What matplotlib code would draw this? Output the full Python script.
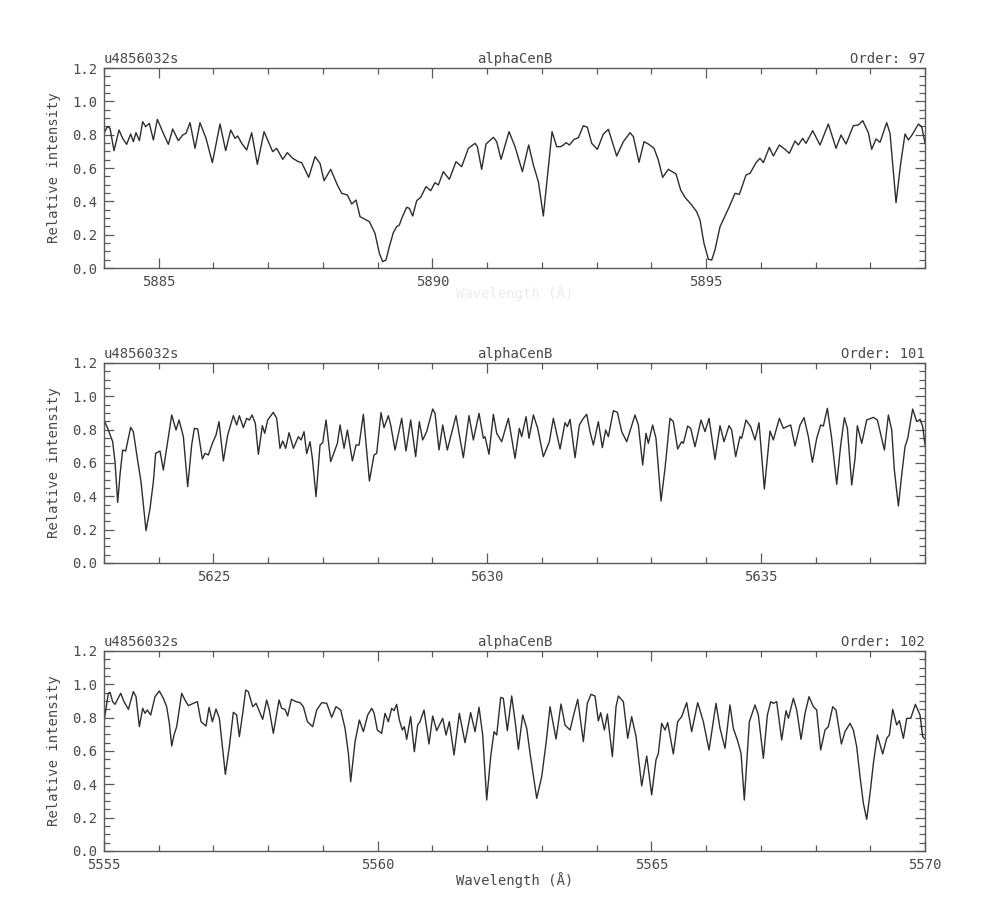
import matplotlib
matplotlib.use("Agg")
import matplotlib.pyplot as plt
from matplotlib.ticker import MultipleLocator, FormatStrFormatter

# ---------------- data ----------------
object_name = "alphaCenB"
file_id = "u4856032s"
orders = [97, 101, 102]
xlims = [(5884.0, 5899.0), (5623.0, 5638.0), (5555.0, 5570.0)]

wl97 = [5884.000, 5884.061, 5884.110, 5884.183, 5884.274, 5884.341, 5884.414, 5884.487, 5884.536, 5884.585,
        5884.646, 5884.707, 5884.761, 5884.828, 5884.902, 5884.975, 5885.084, 5885.176, 5885.255, 5885.358,
        5885.438, 5885.498, 5885.572, 5885.663, 5885.754, 5885.864, 5885.980, 5886.120, 5886.223, 5886.315,
        5886.394, 5886.443, 5886.516, 5886.607, 5886.698, 5886.802, 5886.924, 5887.003, 5887.082, 5887.155,
        5887.265, 5887.350, 5887.448, 5887.551, 5887.612, 5887.740, 5887.856, 5887.947, 5888.020, 5888.142,
        5888.264, 5888.343, 5888.447, 5888.526, 5888.605, 5888.678, 5888.769, 5888.849, 5888.951, 5889.031,
        5889.091, 5889.152, 5889.213, 5889.286, 5889.347, 5889.396, 5889.457, 5889.530, 5889.579, 5889.640,
        5889.713, 5889.786, 5889.883, 5889.969, 5890.048, 5890.109, 5890.200, 5890.310, 5890.431, 5890.535,
        5890.657, 5890.779, 5890.821, 5890.900, 5890.980, 5891.114, 5891.175, 5891.254, 5891.400, 5891.510,
        5891.644, 5891.759, 5891.845, 5891.936, 5892.027, 5892.119, 5892.186, 5892.271, 5892.344, 5892.393,
        5892.442, 5892.502, 5892.588, 5892.667, 5892.758, 5892.831, 5892.911, 5893.014, 5893.124, 5893.215,
        5893.367, 5893.489, 5893.611, 5893.672, 5893.775, 5893.866, 5893.945, 5894.049, 5894.128, 5894.207,
        5894.311, 5894.451, 5894.536, 5894.615, 5894.737, 5894.828, 5894.889, 5894.962, 5895.042, 5895.103,
        5895.163, 5895.255, 5895.346, 5895.425, 5895.529, 5895.608, 5895.730, 5895.803, 5895.913, 5895.986,
        5896.047, 5896.156, 5896.229, 5896.339, 5896.443, 5896.522, 5896.625, 5896.686, 5896.765, 5896.826,
        5896.948, 5897.082, 5897.234, 5897.375, 5897.466, 5897.557, 5897.691, 5897.783, 5897.862, 5897.965,
        5898.026, 5898.105, 5898.179, 5898.300, 5898.361, 5898.471, 5898.556, 5898.635, 5898.696, 5898.775,
        5898.879, 5898.940, 5899.001]
fl97 = [0.808, 0.848, 0.838, 0.704, 0.828, 0.778, 0.742, 0.804, 0.758, 0.812,
        0.764, 0.878, 0.848, 0.868, 0.768, 0.892, 0.808, 0.742, 0.834, 0.764,
        0.798, 0.808, 0.872, 0.718, 0.872, 0.778, 0.632, 0.864, 0.704, 0.828,
        0.778, 0.792, 0.748, 0.708, 0.812, 0.622, 0.818, 0.758, 0.698, 0.718,
        0.652, 0.692, 0.658, 0.638, 0.632, 0.544, 0.668, 0.628, 0.524, 0.592,
        0.498, 0.448, 0.438, 0.384, 0.408, 0.308, 0.292, 0.278, 0.208, 0.088,
        0.038, 0.048, 0.128, 0.212, 0.248, 0.258, 0.312, 0.364, 0.358, 0.312,
        0.404, 0.424, 0.488, 0.464, 0.512, 0.498, 0.578, 0.532, 0.638, 0.608,
        0.718, 0.748, 0.728, 0.592, 0.744, 0.784, 0.758, 0.652, 0.818, 0.728,
        0.578, 0.738, 0.618, 0.518, 0.312, 0.608, 0.818, 0.728, 0.728, 0.738,
        0.752, 0.738, 0.772, 0.782, 0.854, 0.844, 0.748, 0.712, 0.804, 0.832,
        0.672, 0.758, 0.812, 0.788, 0.634, 0.758, 0.744, 0.718, 0.648, 0.544,
        0.592, 0.564, 0.468, 0.424, 0.378, 0.338, 0.288, 0.148, 0.052, 0.048,
        0.108, 0.248, 0.312, 0.368, 0.448, 0.442, 0.558, 0.568, 0.632, 0.658,
        0.632, 0.724, 0.672, 0.738, 0.712, 0.688, 0.762, 0.738, 0.778, 0.748,
        0.824, 0.738, 0.864, 0.718, 0.798, 0.744, 0.854, 0.858, 0.884, 0.812,
        0.712, 0.774, 0.754, 0.872, 0.808, 0.392, 0.628, 0.804, 0.768, 0.804,
        0.864, 0.848, 0.748]

wl101 = [5623.000, 5623.079, 5623.158, 5623.201, 5623.250, 5623.292, 5623.341, 5623.396, 5623.487, 5623.536,
         5623.609, 5623.676, 5623.768, 5623.841, 5623.902, 5623.944, 5624.023, 5624.084, 5624.145, 5624.237,
         5624.316, 5624.371, 5624.450, 5624.529, 5624.602, 5624.651, 5624.712, 5624.797, 5624.846, 5624.907,
         5624.980, 5625.047, 5625.101, 5625.181, 5625.260, 5625.363, 5625.424, 5625.473, 5625.546, 5625.607,
         5625.656, 5625.705, 5625.765, 5625.820, 5625.893, 5625.936, 5625.991, 5626.094, 5626.155, 5626.216,
         5626.265, 5626.320, 5626.381, 5626.460, 5626.551, 5626.600, 5626.655, 5626.703, 5626.764, 5626.807,
         5626.874, 5626.947, 5626.996, 5627.057, 5627.142, 5627.221, 5627.264, 5627.313, 5627.386, 5627.447,
         5627.538, 5627.605, 5627.660, 5627.739, 5627.849, 5627.933, 5627.982, 5628.061, 5628.116, 5628.195,
         5628.238, 5628.317, 5628.439, 5628.518, 5628.603, 5628.694, 5628.761, 5628.822, 5628.895, 5629.005,
         5629.048, 5629.121, 5629.188, 5629.273, 5629.431, 5629.565, 5629.669, 5629.748, 5629.852, 5629.931,
         5629.961, 5630.034, 5630.114, 5630.175, 5630.266, 5630.388, 5630.510, 5630.589, 5630.631, 5630.711,
         5630.765, 5630.845, 5630.924, 5631.027, 5631.137, 5631.210, 5631.332, 5631.423, 5631.466, 5631.515,
         5631.606, 5631.685, 5631.758, 5631.819, 5631.880, 5631.941, 5632.032, 5632.105, 5632.166, 5632.215,
         5632.306, 5632.380, 5632.459, 5632.550, 5632.702, 5632.763, 5632.842, 5632.903, 5632.945, 5633.024,
         5633.085, 5633.177, 5633.250, 5633.341, 5633.402, 5633.481, 5633.554, 5633.585, 5633.664, 5633.719,
         5633.798, 5633.908, 5633.981, 5634.054, 5634.163, 5634.255, 5634.328, 5634.419, 5634.468, 5634.541,
         5634.620, 5634.651, 5634.730, 5634.815, 5634.894, 5634.967, 5635.065, 5635.168, 5635.229, 5635.339,
         5635.412, 5635.473, 5635.546, 5635.625, 5635.717, 5635.790, 5635.869, 5635.942, 5636.021, 5636.094,
         5636.143, 5636.216, 5636.295, 5636.387, 5636.460, 5636.527, 5636.582, 5636.661, 5636.722, 5636.764,
         5636.844, 5636.935, 5637.057, 5637.130, 5637.258, 5637.331, 5637.392, 5637.440, 5637.514, 5637.574,
         5637.635, 5637.684, 5637.775, 5637.849, 5637.910, 5637.958, 5638.001]
fl101 = [0.858, 0.798, 0.728, 0.608, 0.364, 0.528, 0.678, 0.672, 0.814, 0.788,
         0.628, 0.488, 0.194, 0.328, 0.488, 0.658, 0.672, 0.558, 0.688, 0.888,
         0.798, 0.858, 0.758, 0.458, 0.708, 0.808, 0.804, 0.624, 0.658, 0.648,
         0.718, 0.768, 0.848, 0.612, 0.768, 0.884, 0.828, 0.884, 0.812, 0.868,
         0.858, 0.888, 0.838, 0.652, 0.824, 0.778, 0.858, 0.904, 0.868, 0.688,
         0.732, 0.688, 0.782, 0.688, 0.758, 0.738, 0.788, 0.656, 0.728, 0.628,
         0.398, 0.708, 0.722, 0.858, 0.608, 0.678, 0.718, 0.828, 0.688, 0.798,
         0.612, 0.708, 0.708, 0.892, 0.492, 0.648, 0.658, 0.902, 0.812, 0.884,
         0.828, 0.678, 0.868, 0.672, 0.858, 0.638, 0.848, 0.738, 0.788, 0.924,
         0.898, 0.678, 0.828, 0.678, 0.884, 0.632, 0.884, 0.738, 0.898, 0.748,
         0.758, 0.652, 0.892, 0.778, 0.728, 0.868, 0.628, 0.808, 0.758, 0.878,
         0.748, 0.888, 0.808, 0.638, 0.728, 0.868, 0.684, 0.842, 0.818, 0.862,
         0.632, 0.828, 0.868, 0.892, 0.788, 0.708, 0.848, 0.692, 0.798, 0.758,
         0.914, 0.904, 0.788, 0.728, 0.888, 0.828, 0.588, 0.778, 0.718, 0.828,
         0.748, 0.372, 0.568, 0.868, 0.848, 0.684, 0.728, 0.718, 0.822, 0.808,
         0.698, 0.858, 0.788, 0.868, 0.622, 0.824, 0.728, 0.824, 0.798, 0.638,
         0.758, 0.748, 0.858, 0.818, 0.738, 0.842, 0.444, 0.792, 0.738, 0.868,
         0.808, 0.818, 0.828, 0.702, 0.828, 0.872, 0.758, 0.604, 0.748, 0.828,
         0.822, 0.928, 0.748, 0.472, 0.708, 0.872, 0.808, 0.468, 0.628, 0.824,
         0.718, 0.858, 0.874, 0.858, 0.678, 0.888, 0.798, 0.558, 0.342, 0.528,
         0.698, 0.748, 0.924, 0.848, 0.862, 0.818, 0.708]

wl102 = [5555.000, 5555.079, 5555.110, 5555.158, 5555.201, 5555.305, 5555.366, 5555.445, 5555.536, 5555.585,
         5555.646, 5555.707, 5555.749, 5555.792, 5555.853, 5555.932, 5556.011, 5556.084, 5556.145, 5556.194,
         5556.237, 5556.279, 5556.328, 5556.419, 5556.480, 5556.541, 5556.632, 5556.706, 5556.773, 5556.864,
         5556.919, 5556.980, 5557.047, 5557.108, 5557.156, 5557.217, 5557.290, 5557.363, 5557.424, 5557.473,
         5557.534, 5557.589, 5557.637, 5557.717, 5557.778, 5557.899, 5557.972, 5558.021, 5558.094, 5558.198,
         5558.247, 5558.307, 5558.356, 5558.423, 5558.508, 5558.582, 5558.643, 5558.716, 5558.813, 5558.886,
         5558.978, 5559.069, 5559.160, 5559.239, 5559.325, 5559.404, 5559.465, 5559.507, 5559.587, 5559.666,
         5559.739, 5559.818, 5559.891, 5559.933, 5559.994, 5560.073, 5560.134, 5560.195, 5560.256, 5560.299,
         5560.347, 5560.396, 5560.451, 5560.487, 5560.530, 5560.603, 5560.670, 5560.731, 5560.774, 5560.847,
         5560.938, 5561.005, 5561.078, 5561.188, 5561.249, 5561.310, 5561.395, 5561.492, 5561.596, 5561.699,
         5561.779, 5561.852, 5561.919, 5561.992, 5562.065, 5562.126, 5562.175, 5562.248, 5562.296, 5562.369,
         5562.449, 5562.516, 5562.571, 5562.650, 5562.723, 5562.784, 5562.906, 5562.997, 5563.076, 5563.149,
         5563.259, 5563.350, 5563.423, 5563.515, 5563.588, 5563.655, 5563.758, 5563.831, 5563.898, 5563.971,
         5564.032, 5564.075, 5564.142, 5564.197, 5564.288, 5564.355, 5564.398, 5564.489, 5564.568, 5564.641,
         5564.721, 5564.824, 5564.916, 5565.006, 5565.085, 5565.128, 5565.189, 5565.250, 5565.299, 5565.402,
         5565.481, 5565.554, 5565.646, 5565.737, 5565.847, 5565.950, 5566.054, 5566.182, 5566.255, 5566.346,
         5566.437, 5566.498, 5566.572, 5566.639, 5566.699, 5566.791, 5566.894, 5566.955, 5567.047, 5567.120,
         5567.181, 5567.229, 5567.290, 5567.382, 5567.461, 5567.504, 5567.595, 5567.656, 5567.735, 5567.808,
         5567.881, 5567.960, 5568.021, 5568.094, 5568.173, 5568.234, 5568.314, 5568.374, 5568.472, 5568.539,
         5568.630, 5568.691, 5568.752, 5568.813, 5568.874, 5568.935, 5568.996, 5569.057, 5569.130, 5569.227,
         5569.300, 5569.349, 5569.410, 5569.483, 5569.532, 5569.605, 5569.666, 5569.739, 5569.824, 5569.909,
         5569.958, 5570.019]
fl102 = [0.776, 0.946, 0.952, 0.896, 0.880, 0.946, 0.896, 0.850, 0.956, 0.926,
         0.746, 0.856, 0.826, 0.846, 0.816, 0.926, 0.960, 0.916, 0.866, 0.766,
         0.630, 0.696, 0.746, 0.946, 0.906, 0.872, 0.886, 0.896, 0.776, 0.750,
         0.862, 0.776, 0.852, 0.796, 0.646, 0.460, 0.626, 0.832, 0.816, 0.686,
         0.826, 0.966, 0.956, 0.866, 0.886, 0.790, 0.906, 0.846, 0.706, 0.906,
         0.856, 0.850, 0.810, 0.910, 0.896, 0.890, 0.866, 0.776, 0.746, 0.846,
         0.890, 0.886, 0.802, 0.866, 0.846, 0.736, 0.586, 0.416, 0.656, 0.786,
         0.716, 0.816, 0.856, 0.830, 0.726, 0.706, 0.826, 0.776, 0.856, 0.842,
         0.880, 0.786, 0.726, 0.746, 0.670, 0.806, 0.596, 0.756, 0.776, 0.846,
         0.642, 0.810, 0.722, 0.796, 0.696, 0.776, 0.576, 0.826, 0.650, 0.830,
         0.716, 0.862, 0.696, 0.306, 0.566, 0.716, 0.696, 0.922, 0.916, 0.722,
         0.930, 0.766, 0.610, 0.816, 0.736, 0.586, 0.316, 0.446, 0.646, 0.866,
         0.672, 0.882, 0.756, 0.726, 0.826, 0.910, 0.656, 0.886, 0.940, 0.930,
         0.780, 0.830, 0.726, 0.822, 0.566, 0.866, 0.930, 0.896, 0.676, 0.806,
         0.686, 0.390, 0.570, 0.336, 0.546, 0.586, 0.766, 0.726, 0.770, 0.582,
         0.776, 0.806, 0.890, 0.716, 0.890, 0.776, 0.606, 0.886, 0.736, 0.616,
         0.876, 0.736, 0.666, 0.586, 0.306, 0.776, 0.876, 0.816, 0.556, 0.816,
         0.896, 0.886, 0.896, 0.666, 0.842, 0.796, 0.916, 0.846, 0.670, 0.826,
         0.926, 0.866, 0.846, 0.606, 0.726, 0.746, 0.866, 0.846, 0.642, 0.716,
         0.766, 0.726, 0.626, 0.446, 0.286, 0.190, 0.346, 0.526, 0.696, 0.582,
         0.676, 0.696, 0.850, 0.756, 0.782, 0.676, 0.796, 0.796, 0.880, 0.816,
         0.686, 0.666]

series = [(wl97, fl97), (wl101, fl101), (wl102, fl102)]
ylabel = "Relative intensity"
xlabel = "Wavelength (\u00c5)"

# ---------------- style ----------------
TXT = "#4a4a4a"
AX = "#5a5a5a"
LINE = "#2e2e2e"
FONT = "DejaVu Sans Mono"
plt.rcParams["font.family"] = [FONT, "DejaVu Sans"]

fig = plt.figure(figsize=(9.82, 9.19), dpi=100)
W, H = 982.0, 919.0
left, right = 104, 925
bottoms = [268, 563, 851]

for i, (bot, (wl, fl), order, xl) in enumerate(zip(bottoms, series, orders, xlims)):
    ax = fig.add_axes([left / W, (H - bot) / H, (right - left) / W, 200 / H])
    ax.plot(wl, fl, color=LINE, lw=1.0, clip_on=True)
    ax.set_xlim(*xl)
    ax.set_ylim(0.0, 1.2)
    ax.xaxis.set_major_locator(MultipleLocator(5))
    ax.xaxis.set_minor_locator(MultipleLocator(1))
    ax.yaxis.set_major_locator(MultipleLocator(0.2))
    ax.yaxis.set_minor_locator(MultipleLocator(0.05))
    ax.yaxis.set_major_formatter(FormatStrFormatter("%.1f"))
    ax.xaxis.set_major_formatter(FormatStrFormatter("%d"))
    ax.tick_params(which="both", direction="in", top=True, right=True,
                   color=AX, width=0.9, labelcolor=TXT, labelsize=10)
    ax.tick_params(which="major", length=7, pad=5)
    ax.tick_params(which="minor", length=4)
    for s in ax.spines.values():
        s.set_color(AX)
        s.set_linewidth(1.0)
    ax.set_ylabel(ylabel, color=TXT, fontsize=10, labelpad=8)
    ax.text(0.0, 1.012, file_id, transform=ax.transAxes, ha="left", va="bottom",
            color=TXT, fontsize=10)
    ax.text(0.5, 1.012, object_name, transform=ax.transAxes, ha="center", va="bottom",
            color=TXT, fontsize=10)
    ax.text(1.0, 1.012, f"Order: {order}", transform=ax.transAxes, ha="right", va="bottom",
            color=TXT, fontsize=10)
    if i == 0:
        ax.text(0.5, -0.125, xlabel, transform=ax.transAxes, ha="center", va="center",
                color="#ececec", fontsize=10)
    if i == 2:
        ax.text(0.5, -0.145, xlabel, transform=ax.transAxes, ha="center", va="center",
                color=TXT, fontsize=10)

fig.savefig("out.png", dpi=100, facecolor="white")
